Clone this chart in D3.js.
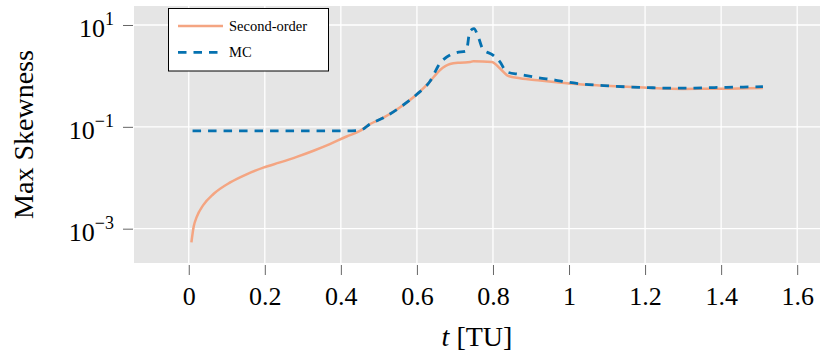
<!DOCTYPE html>
<html>
<head>
<meta charset="utf-8">
<script src="https://cdn.jsdelivr.net/npm/d3@7"></script>
<style>
  body { margin: 0; background: #fff; }
  svg text { font-family: "Liberation Serif", "DejaVu Serif", serif !important; fill: #000; }
</style>
</head>
<body>
<script>
// time [TU] and max skewness
const soT = [0.007, 0.013, 0.021, 0.038, 0.065, 0.109, 0.152, 0.196, 0.24, 0.284, 0.328, 0.371, 0.415, 0.45,
  0.477, 0.512, 0.555, 0.60, 0.634, 0.661, 0.687, 0.713, 0.74, 0.748, 0.797, 0.818, 0.84, 0.871, 0.924, 0.967,
  1.0, 1.08, 1.195, 1.3, 1.4, 1.51];
const soVal = [5.4e-4, 1.1e-3, 1.7e-3, 2.9e-3, 4.8e-3, 8.1e-3, 0.0117, 0.0158, 0.020, 0.0257, 0.0339, 0.0457, 0.0646, 0.083,
  0.1135, 0.151, 0.24, 0.436, 0.776, 1.31, 1.71, 1.82, 1.87, 1.95, 1.88, 1.41, 1.0, 0.90, 0.81, 0.75,
  0.71, 0.65, 0.59, 0.556, 0.56, 0.58];

const mcT = [0.01, 0.1, 0.2, 0.3, 0.4, 0.45, 0.477, 0.512, 0.555, 0.60, 0.634, 0.661, 0.687, 0.704, 0.73, 0.739,
  0.75, 0.761, 0.774, 0.80, 0.818, 0.836, 0.871, 0.915, 0.963, 0.998, 1.043, 1.081, 1.12, 1.165, 1.208, 1.248,
  1.33, 1.375, 1.415, 1.458, 1.51];
const mcVal = [0.083, 0.083, 0.083, 0.083, 0.083, 0.085, 0.1135, 0.151, 0.24, 0.436, 0.776, 1.78, 2.57, 2.86, 3.1, 7.4,
  8.5, 5.9, 3.3, 2.57, 1.9, 1.2, 1.07, 0.93, 0.83, 0.75, 0.684, 0.653, 0.625, 0.605, 0.59, 0.578,
  0.578, 0.59, 0.597, 0.605, 0.616];

const xTicks = [0, 0.2, 0.4, 0.6, 0.8, 1, 1.2, 1.4, 1.6];
const yTicks = [1e1, 1e-1, 1e-3];
const yTickExp = ["1", "\u22121", "\u22123"];

const seriesNames = ["Second-order", "MC"];
const colors = ["#f4a582", "#0571b0"];

const W = 821, H = 358;
const plotL = 134, plotR = 820, plotT = 6, plotB = 263;
const serif = "'Liberation Serif', 'DejaVu Serif', serif";

const x = d3.scaleLinear().domain([-0.144, 1.66]).range([plotL, plotR]);
const y = d3.scaleLog().domain([Math.pow(10, -3.674), Math.pow(10, 1.373)]).range([plotB, plotT]);

const svg = d3.select("body").append("svg")
  .attr("width", W)
  .attr("height", H)
  .attr("font-family", serif);

// plot background
svg.append("rect")
  .attr("x", plotL).attr("y", plotT)
  .attr("width", plotR - plotL).attr("height", plotB - plotT)
  .attr("fill", "#e5e5e5");

// grid
svg.append("g").selectAll("line").data(xTicks).join("line")
  .attr("x1", d => x(d)).attr("x2", d => x(d))
  .attr("y1", plotT).attr("y2", plotB)
  .attr("stroke", "#fff").attr("stroke-width", 1.3);
svg.append("g").selectAll("line").data(yTicks).join("line")
  .attr("x1", plotL).attr("x2", plotR)
  .attr("y1", d => y(d)).attr("y2", d => y(d))
  .attr("stroke", "#fff").attr("stroke-width", 1.3);

// x axis
const xAxis = svg.append("g")
  .attr("transform", "translate(0," + (plotB + 2) + ")")
  .call(d3.axisBottom(x).tickValues(xTicks).tickSize(10).tickPadding(12)
    .tickFormat(d => String(d)));
xAxis.attr("font-family", serif).attr("font-size", 26);
xAxis.select(".domain").remove();
xAxis.selectAll(".tick line").attr("stroke", "#666");
xAxis.selectAll(".tick text").attr("fill", "#000");

// y axis
const yAxis = svg.append("g")
  .attr("transform", "translate(" + (plotL - 1) + ",0)")
  .call(d3.axisLeft(y).tickValues(yTicks).tickSize(10).tickFormat(""));
yAxis.attr("font-family", serif).attr("font-size", 26);
yAxis.select(".domain").remove();
yAxis.selectAll(".tick line").attr("stroke", "#666");
yAxis.selectAll(".tick").each(function (d, i) {
  const t = d3.select(this).append("text")
    .attr("x", -19).attr("y", 12)
    .attr("text-anchor", "end")
    .attr("fill", "#000");
  t.append("tspan").text("10");
  t.append("tspan").attr("dy", -12).attr("font-size", 18).text(yTickExp[i]);
});

// lines
const line = d3.line()
  .x(d => x(d[0]))
  .y(d => y(d[1]))
  .curve(d3.curveMonotoneX);

const soData = soT.map((t, i) => [t, soVal[i]]);
const mcData = mcT.map((t, i) => [t, mcVal[i]]);

svg.append("path")
  .datum(soData)
  .attr("d", line)
  .attr("fill", "none")
  .attr("stroke", colors[0])
  .attr("stroke-width", 2.5);

svg.append("path")
  .datum(mcData)
  .attr("d", line)
  .attr("fill", "none")
  .attr("stroke", colors[1])
  .attr("stroke-width", 2.8)
  .attr("stroke-dasharray", "8.5,7");

// legend
const lg = svg.append("g");
lg.append("rect")
  .attr("x", 168.5).attr("y", 8.5)
  .attr("width", 160).attr("height", 62.5)
  .attr("fill", "#fff").attr("stroke", "#000").attr("stroke-width", 1);
seriesNames.forEach((name, i) => {
  const ly = 26 + i * 26.3;
  lg.append("line")
    .attr("x1", 178).attr("x2", 223)
    .attr("y1", ly).attr("y2", ly)
    .attr("stroke", colors[i])
    .attr("stroke-width", i === 0 ? 2.5 : 2.8)
    .attr("stroke-dasharray", i === 0 ? null : "8.5,7");
  lg.append("text")
    .attr("x", 229).attr("y", ly + 4.5)
    .attr("font-size", 14.5)
    .text(name);
});

// axis labels
svg.append("text")
  .attr("x", (plotL + plotR) / 2).attr("y", 346)
  .attr("text-anchor", "middle")
  .attr("font-size", 28)
  .call(t => {
    t.append("tspan").attr("font-style", "italic").text("t");
    t.append("tspan").text(" [TU]");
  });

svg.append("text")
  .attr("transform", "translate(33," + ((plotT + plotB) / 2) + ") rotate(-90)")
  .attr("text-anchor", "middle")
  .attr("font-size", 28)
  .text("Max Skewness");
</script>
</body>
</html>
